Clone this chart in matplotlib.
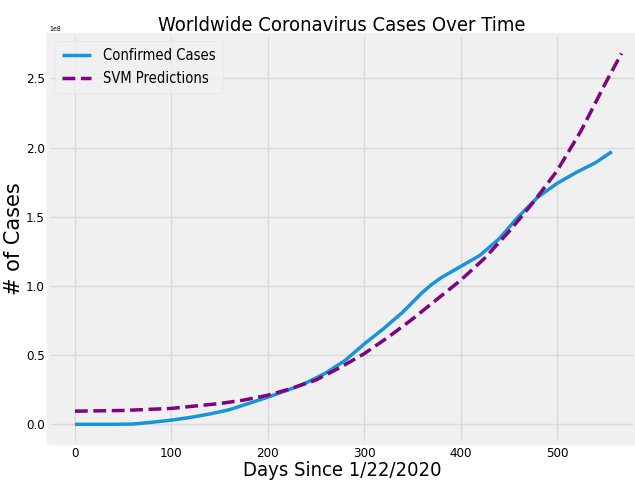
import matplotlib.pyplot as plt
import numpy as np

plt.style.use('fivethirtyeight')
plt.rcParams['font.family'] = ['DejaVu Sans']
plt.rcParams['font.stretch'] = 'condensed'

# 确诊病例（单位 1e8）
days_confirmed = [0, 20, 40, 60, 80, 100, 120, 140, 160, 180, 200, 220, 240, 260,
                  280, 300, 320, 340, 360, 370, 380, 390, 400, 420, 440, 460, 480,
                  500, 520, 540, 557]
cases_confirmed = [0, 0, 0, 0.002, 0.015, 0.03, 0.05, 0.075, 0.105, 0.15, 0.196,
                   0.245, 0.30, 0.37, 0.46, 0.58, 0.69, 0.81, 0.95, 1.01, 1.06,
                   1.10, 1.14, 1.22, 1.34, 1.50, 1.64, 1.74, 1.82, 1.89, 1.97]

# SVM预测
days_svm = [0, 50, 100, 150, 175, 200, 225, 250, 275, 300, 325, 350, 375, 400,
            425, 450, 475, 500, 525, 550, 567]
cases_svm = [0.095, 0.10, 0.115, 0.15, 0.175, 0.21, 0.26, 0.32, 0.41, 0.51, 0.63,
             0.76, 0.90, 1.04, 1.20, 1.39, 1.60, 1.83, 2.12, 2.46, 2.68]

fig = plt.figure(figsize=(6.35, 4.84), dpi=100, facecolor='white')
ax = fig.add_axes([0.077, 0.085, 0.923, 0.843])

ax.plot(days_confirmed, np.array(cases_confirmed) * 1e8, color='#1a94d8',
        linewidth=2.5, label='Confirmed Cases')
ax.plot(days_svm, np.array(cases_svm) * 1e8, color='purple', linestyle='--',
        linewidth=2.5, label='SVM Predictions')

ax.set_xlim(-27, 581)
ax.grid(color='#dadada', linewidth=1)
ax.set_title('Worldwide Coronavirus Cases Over Time', fontsize=14.5, pad=3)
ax.set_xlabel('Days Since 1/22/2020', fontsize=14.5, labelpad=1)
ax.set_ylabel('# of Cases', fontsize=15, labelpad=1, fontstretch='normal')
ax.tick_params(labelsize=9.5, pad=3)
ax.yaxis.get_offset_text().set_fontsize(5)
ax.set_yticks(np.arange(0, 2.6e8, 0.5e8))
leg = ax.legend(loc='upper left', fontsize=10.5, frameon=True, handlelength=2.0,
                borderaxespad=0.4, labelspacing=0.55, borderpad=0.5)
leg.get_frame().set_edgecolor('#e2e2e2')

fig.savefig('out.png', dpi=100, facecolor='white')
